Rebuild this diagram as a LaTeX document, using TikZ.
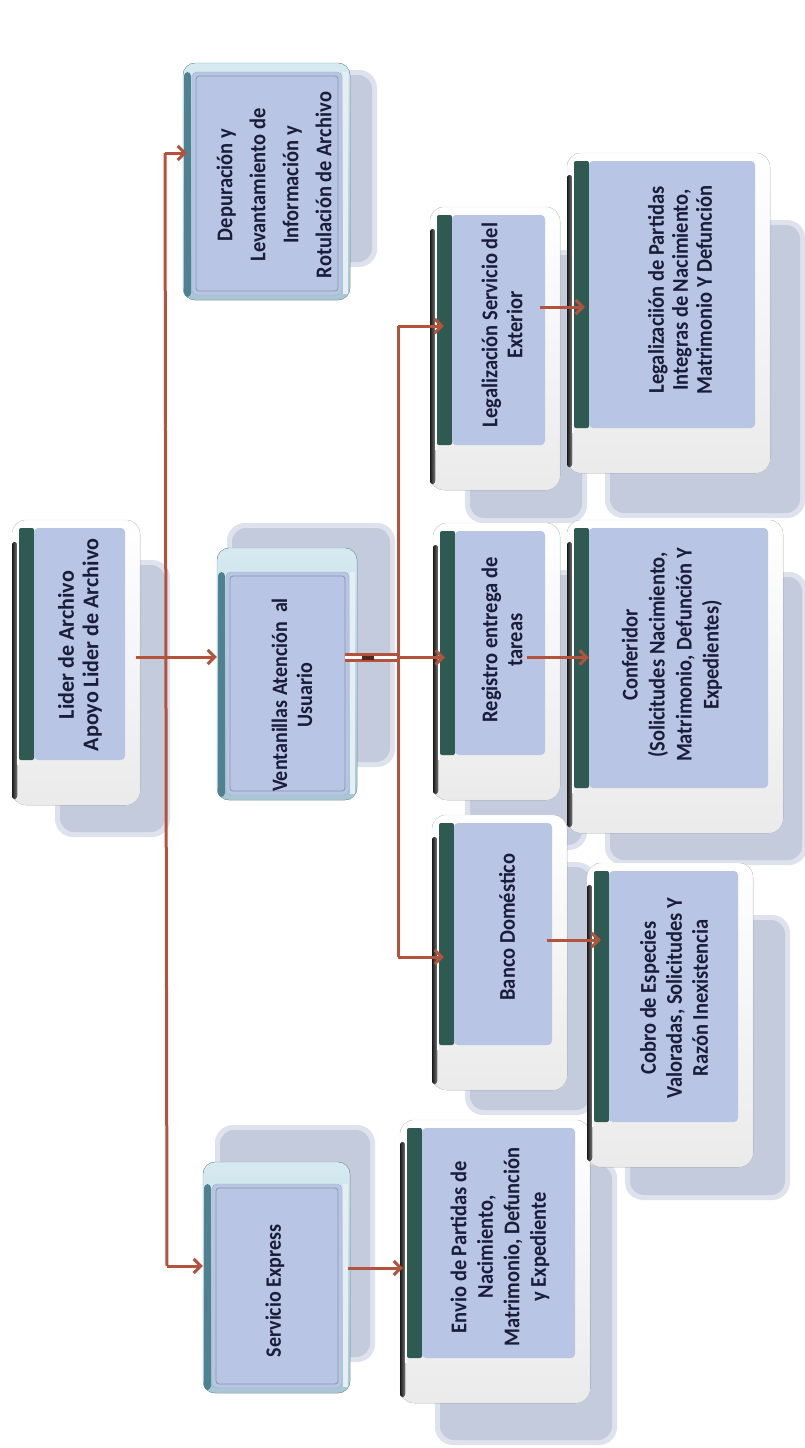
\documentclass[tikz,border=0pt]{standalone}
\usepackage{fontspec}
\setmainfont{Carlito}
\usetikzlibrary{arrows.meta,calc,fit}
\definecolor{brick}{HTML}{B4533C}
\definecolor{facec}{HTML}{B9C5E5}
\definecolor{ink}{HTML}{1B1B3A}
\definecolor{greenstrip}{HTML}{2E5A52}
\definecolor{shadowc}{HTML}{C3CBDD}
\definecolor{shadowedge}{HTML}{DDE2EC}
\definecolor{bevel}{HTML}{A9C6D4}
\definecolor{bevtop}{HTML}{D6EAF0}
\definecolor{tealedge}{HTML}{4F8290}

% soft drop shadow behind a card
\newcommand{\dropshade}[4]{%
  \fill[shadowedge, rounded corners=18] (#1-5,#2-5) rectangle (#3+5,#4+5);
  \fill[shadowc, rounded corners=14] (#1,#2) rectangle (#3,#4);}

% white bevelled card with a green left band
\newcommand{\cardA}[5]{%
  \fill[rounded corners=14, top color=white, bottom color=black!8, draw=black!12] (#2,#3) rectangle (#4,#5);
  \fill[rounded corners=3, left color=black!90, right color=black!55] (#2,#3+22) rectangle (#2+5,#5-6);
  \fill[white] (#2+5,#3+10) rectangle (#2+7,#5-40);
  \fill[greenstrip, rounded corners=2] (#2+7,#3+8) rectangle (#2+22,#5-45);
  \fill[facec, rounded corners=4] (#2+22,#3+8) rectangle (#4-15,#5-45);
  \node[fit={(#2,#3) (#4,#5)}, inner sep=0pt] (#1) {};}

% blue bevelled card with an inner frame
\newcommand{\cardB}[6]{%
  \fill[rounded corners=12, top color=bevtop, bottom color=bevel, draw=tealedge!70] (#2,#3) rectangle (#4,#5);
  \fill[tealedge, rounded corners=4] (#2+1,#3+#6) rectangle (#2+8,#5-3);
  \fill[white!70!bevel] (#4-7,#3+#6) rectangle (#4-2,#5-6);
  \fill[facec, draw=tealedge!60, rounded corners=5] (#2+9,#3+#6) rectangle (#4-8,#5-5);
  \draw[black!25!facec, line width=0.8pt, rounded corners=3] (#2+13,#3+#6+4) rectangle (#4-12,#5-9);
  \node[fit={(#2,#3) (#4,#5)}, inner sep=0pt] (#1) {};}

\tikzset{
  txt/.style={rotate=90, xscale=0.91, align=center, text=ink, inner sep=0pt,
    font=\fontsize{22.5}{25}\selectfont\bfseries},
  bus/.style={draw=brick, line width=3pt},
  conn/.style={draw=brick, line width=3pt, -{Straight Barb[length=7pt,width=14pt]}}
}

\begin{document}
\begin{tikzpicture}[x=1pt, y=-1pt]
\useasboundingbox (0,0) rectangle (804,1448);
\fill[white] (0,0) rectangle (804,1448);

% shadows
\dropshade{60}{565}{165}{832}
\dropshade{203}{75}{372}{262}
\dropshade{232}{528}{390}{762}
\dropshade{220}{1130}{370}{1357}
\dropshade{440}{1165}{612}{1440}
\dropshade{470}{255}{582}{518}
\dropshade{470}{575}{582}{845}
\dropshade{470}{867}{590}{1110}
\dropshade{610}{225}{800}{513}
\dropshade{610}{577}{802}{860}
\dropshade{630}{920}{785}{1195}

% cards
\cardA{lider}{12}{520}{140}{805}
\cardB{dep}{183}{63}{350}{300}{9}
\cardB{vent}{217}{548}{357}{800}{24}
\cardB{sx}{203}{1162}{350}{1393}{22}
\cardA{envio}{400}{1120}{590}{1403}
\cardA{leg}{430}{207}{560}{490}
\cardA{reg}{433}{523}{560}{800}
\cardA{banco}{432}{815}{567}{1090}
\cardA{legp}{567}{153}{770}{473}
\cardA{conf}{567}{520}{783}{833}
\cardA{cobro}{587}{863}{753}{1167}

% first level bus
\coordinate (j1t) at (165,153);
\coordinate (j1m) at (165,657);
\coordinate (j1b) at (167,1266);
\draw[bus] (j1t) -- (j1b);
\draw[conn] (j1t) -- ($(dep.west |- j1t)+(4,0)$);
\draw[conn] ($(lider.east |- j1m)+(-4,0)$) -- (vent.west |- j1m);
\draw[conn] (j1b) -- (sx.west |- j1b);

% second level bus
\coordinate (j2) at (398,657.5);
\coordinate (j2t) at (398,326);
\coordinate (j2b) at (398,957);
\draw[draw=brick, line width=2.6pt, double=white, double distance=3.4pt]
  ($(vent.east |- j2)+(-12,0)$) -- (j2);
\fill[brick!45!black] (362,655.5) rectangle (374,659.5);
\draw[bus] (j2t) -- (j2b);
\draw[conn] (j2t) -- ($(leg.west |- j2t)+(14,0)$);
\draw[conn] (j2) -- ($(reg.west |- j2)+(12,0)$);
\draw[conn] (j2b) -- ($(banco.west |- j2b)+(12,0)$);

% third level links
\draw[conn] ($(leg.east)+(-20,-41.5)$) coordinate (s1) -- ($(legp.west |- s1)+(18,0)$);
\draw[conn] ($(reg.east)+(-33,-4)$) coordinate (s2) -- ($(conf.west |- s2)+(22,0)$);
\draw[conn] ($(banco.east)+(-20,-12.5)$) coordinate (s3) -- ($(cobro.west |- s3)+(14,0)$);
\draw[conn] ($(sx.east)+(-2,-9.5)$) coordinate (s4) -- ($(envio.west |- s4)+(3,0)$);

% labels
\node[txt, xscale=1.08, font=\fontsize{22.5}{24.5}\selectfont\bfseries] (lider-t) at (80,645)
  {Lider de Archivo\\Apoyo Lider de Archivo};
\node[txt, font=\fontsize{22.5}{33}\selectfont\bfseries] (dep-t) at (274,185)
  {Depuración y\\Levantamiento de\\Información y\\Rotulación de Archivo};
\node[txt, font=\fontsize{22}{25}\selectfont\bfseries] (vent-t) at (292,695)
  {Ventanillas Atención\ \ al\\Usuario};
\node[txt, font=\fontsize{22}{25}\selectfont\bfseries] (sx-t) at (275,1291)
  {Servicio Express};
\node[txt, font=\fontsize{22.5}{26.5}\selectfont\bfseries] (envio-t) at (500,1247)
  {Envio de Partidas de\\Nacimiento,\\Matrimonio, Defunción\\y Expediente};
\node[txt] (leg-t) at (502,325) {Legalización Servicio del\\Exterior};
\node[txt] (reg-t) at (502,640) {Registro entrega de\\tareas};
\node[txt] (banco-t) at (507,927) {Banco Doméstico};
\node[txt, font=\fontsize{22.5}{24}\selectfont\bfseries] (legp-t) at (680,290)
  {Legalizaciión de Partidas\\Integras de Nacimiento,\\Matrimonio Y Defunción};
\node[txt, font=\fontsize{22.5}{27}\selectfont\bfseries] (conf-t) at (672,655)
  {Conferidor\\(Solicitudes Nacimiento,\\Matrimonio, Defunción Y\\Expedientes)};
\node[txt, font=\fontsize{22.5}{26}\selectfont\bfseries] (cobro-t) at (674,998)
  {Cobro de Especies\\Valoradas, Solicitudes Y\\Razón Inexistencia};
\end{tikzpicture}
\end{document}
